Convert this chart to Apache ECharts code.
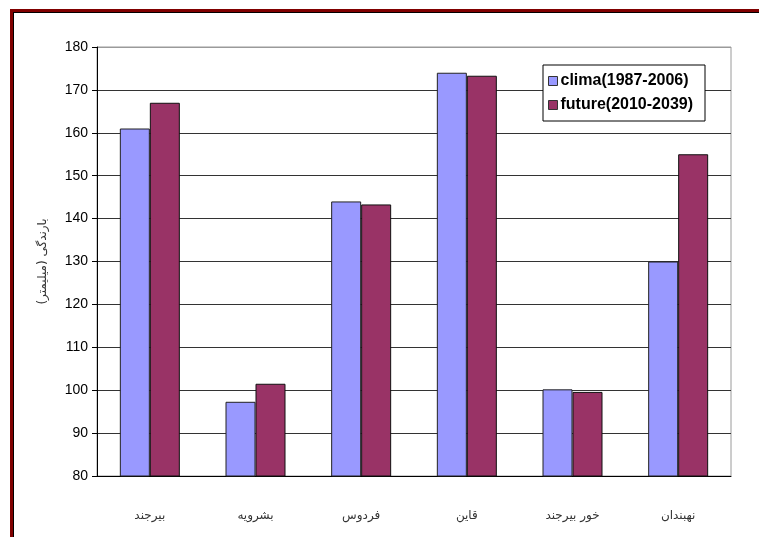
<!DOCTYPE html>
<html>
<head>
<meta charset="utf-8">
<script src="https://cdn.jsdelivr.net/npm/echarts@6/dist/echarts.min.js"></script>
<style>
  html, body { margin: 0; padding: 0; background: #fff; }
  #main { position: absolute; left: 0; top: 0; width: 759px; height: 537px; }
  .frame-red { position: absolute; left: 10px; top: 9px; width: 760px; height: 540px;
    border-top: 3px solid #800000; border-left: 3px solid #800000; pointer-events: none; }
  .frame-black { position: absolute; left: 13px; top: 12px; width: 760px; height: 540px;
    border-top: 1px solid #000; border-left: 1px solid #000; pointer-events: none; }
</style>
</head>
<body>
<div id="main"></div>
<div class="frame-red"></div>
<div class="frame-black"></div>
<script>
// stations
const cities = ['بیرجند', 'بشرویه', 'فردوس', 'قاین', 'خور بیرجند', 'نهبندان']
// rainfall (mm)
const climaValues = [161, 97.3, 144, 174, 100.2, 130]
const futureValues = [167, 101.5, 143.3, 173.3, 99.6, 155]
const yTicks = { min: 80, max: 180, interval: 10 }

const myChart = echarts.init(document.getElementById('main'))

// last grid line (180) is the lighter plot frame
const gridColors = []
for (let v = yTicks.min; v <= yTicks.max; v += yTicks.interval) {
  gridColors.push(v === yTicks.max ? '#9a9a9a' : '#333')
}

const option = {
  animation: false,
  textStyle: { fontFamily: 'Arial, "Liberation Sans", "DejaVu Sans", sans-serif' },
  grid: {
    left: 97,
    right: 28,
    top: 47,
    bottom: 61,
    show: true,
    borderColor: '#9a9a9a',
    borderWidth: 1
  },
  legend: {
    orient: 'vertical',
    right: 54,
    top: 65,
    padding: [8, 12, 8, 5],
    itemGap: 8,
    itemWidth: 9,
    itemHeight: 9,
    icon: 'rect',
    backgroundColor: '#fff',
    borderColor: '#000',
    borderWidth: 1,
    borderRadius: 0,
    textStyle: { fontSize: 16, fontWeight: 'bold', color: '#000', padding: [0, 0, 0, -2] },
    data: [
      { name: 'clima(1987-2006)', itemStyle: { borderColor: '#333', borderWidth: 1 } },
      { name: 'future(2010-2039)', itemStyle: { borderColor: '#333', borderWidth: 1 } }
    ]
  },
  xAxis: {
    type: 'category',
    data: cities,
    axisLine: { lineStyle: { color: '#000', width: 1 } },
    axisTick: { length: 5, lineStyle: { color: '#000' } },
    axisLabel: {
      margin: 34,
      fontSize: 12,
      color: '#333',
      fontFamily: '"DejaVu Sans", sans-serif'
    }
  },
  yAxis: {
    type: 'value',
    min: yTicks.min,
    max: yTicks.max,
    interval: yTicks.interval,
    name: 'بارندگی (میلیمتر)',
    nameLocation: 'middle',
    nameGap: 48,
    nameTextStyle: { fontSize: 12, color: '#333', fontFamily: '"DejaVu Sans", sans-serif' },
    axisLine: { show: true, lineStyle: { color: '#000', width: 1 } },
    axisTick: { show: true, length: 5, lineStyle: { color: '#000' } },
    axisLabel: { fontSize: 14, color: '#000', margin: 9 },
    splitLine: { lineStyle: { color: gridColors, width: 1 } }
  },
  series: [
    {
      name: 'clima(1987-2006)',
      type: 'bar',
      data: climaValues,
      barWidth: 30,
      barGap: '0%',
      itemStyle: { color: '#9999ff', borderColor: '#222', borderWidth: 1 }
    },
    {
      name: 'future(2010-2039)',
      type: 'bar',
      data: futureValues,
      barWidth: 30,
      itemStyle: { color: '#993366', borderColor: '#111', borderWidth: 1 }
    }
  ]
}

myChart.setOption(option)
</script>
</body>
</html>
